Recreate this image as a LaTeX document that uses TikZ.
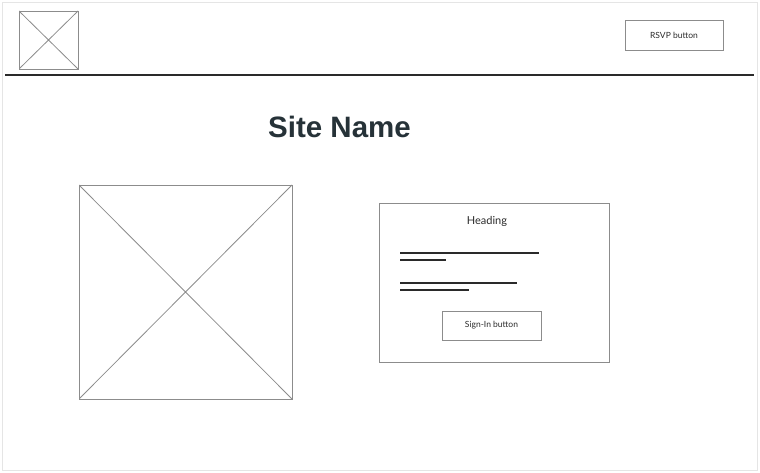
\documentclass[tikz,border=0pt]{standalone}
\usepackage{fontspec}
\setmainfont{Lato}
\newfontfamily\titlefont{Liberation Sans}
\definecolor{frame}{HTML}{8C8C8C}
\definecolor{ink}{HTML}{2A2A2A}
\definecolor{slate}{HTML}{263238}
\begin{document}
\begin{tikzpicture}[x=1pt,y=-1pt,
  wire/.style={draw=frame, line width=0.9pt},
  placeholder/.style={wire, path picture={
      \draw[frame, line width=0.8pt] (path picture bounding box.north west) -- (path picture bounding box.south east)
                 (path picture bounding box.south west) -- (path picture bounding box.north east);}},
  btn/.style={wire, font=\fontsize{8.5}{10}\selectfont, text=ink},
  textline/.style={draw=ink, line width=1.8pt}]
  \useasboundingbox (0,0) rectangle (760,473);
  % page frame
  \draw[black!10, line width=0.8pt] (2,2) rectangle (757,470);
  % header
  \node[placeholder, minimum width=59pt, minimum height=58pt, inner sep=0pt] (logo) at (48.5,40) {};
  \node[btn, minimum width=98pt, minimum height=30pt, inner sep=0pt] (rsvp) at (674,35) {RSVP button};
  \coordinate (hl) at (5,75);
  \coordinate (hr) at (754,75);
  \draw[ink, line width=1.4pt] (hl) -- (hr);
  % title
  \node[font=\titlefont\bfseries\fontsize{29.5}{34}\selectfont, text=slate] (title) at (339.5,127) {Site Name};
  % hero image
  \node[placeholder, minimum width=213pt, minimum height=214pt, inner sep=0pt] (hero) at (185.5,292) {};
  % sign-in card
  \node[wire, minimum width=230pt, minimum height=159pt, inner sep=0pt] (card) at (494,282.5) {};
  \node[font=\fontsize{11}{13}\selectfont, text=ink] (heading) at (487,221) {Heading};
  \coordinate (a1) at (400,253); \coordinate (a2) at (539,253);
  \coordinate (b1) at (400,260); \coordinate (b2) at (446,260);
  \coordinate (c1) at (400,283); \coordinate (c2) at (517,283);
  \coordinate (d1) at (400,290); \coordinate (d2) at (469,290);
  \draw[textline] (a1) -- (a2) (b1) -- (b2) (c1) -- (c2) (d1) -- (d2);
  \node[btn, minimum width=99pt, minimum height=29pt, inner sep=0pt] (signin) at (491.5,325.5) {Sign-In button};
\end{tikzpicture}
\end{document}
